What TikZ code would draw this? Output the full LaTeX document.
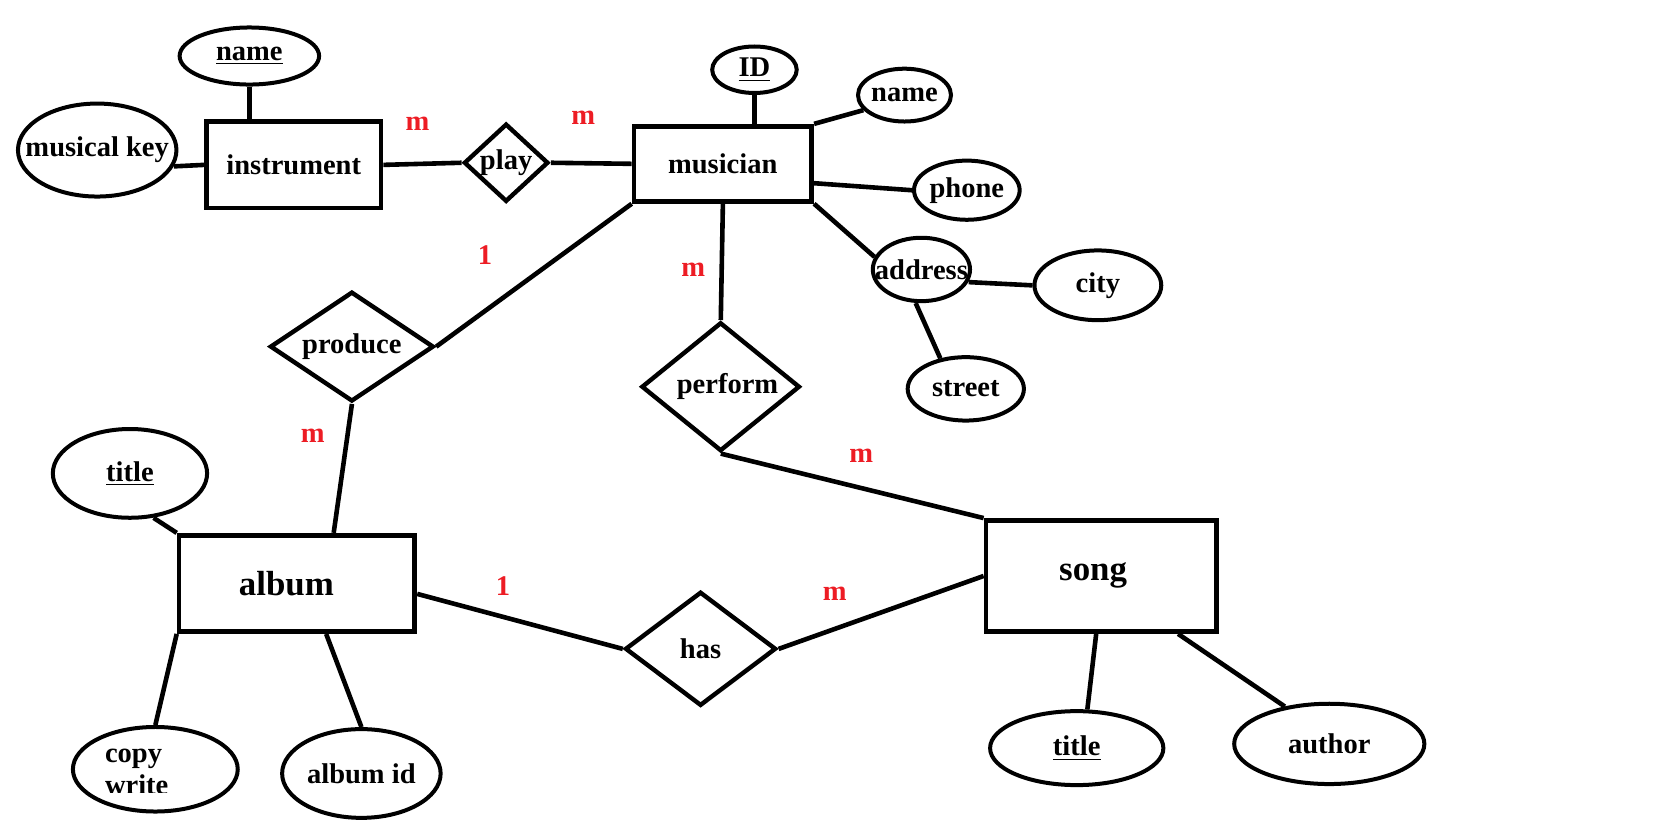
\documentclass[tikz,border=0pt]{standalone}
\usepackage{fontspec}
\setmainfont{Liberation Serif}
\usetikzlibrary{shapes.geometric}
\definecolor{pred}{RGB}{237,28,36}
\newcommand{\ztext}[1]{\makebox[0pt][c]{#1}}
\begin{document}
\begin{tikzpicture}[x=0.5pt,y=-0.5pt,scale=1.0567,
  every node/.style={transform shape, font=\bfseries\fontsize{13.5}{15}\selectfont, inner sep=0pt},
  attr/.style={draw, ellipse, line width=2pt},
  ent/.style={draw, rectangle, line width=2.3pt},
  rel/.style={draw, diamond, line width=2.2pt},
  big/.style={font=\bfseries\fontsize{16.5}{18}\selectfont},
  card/.style={text=pred},
  conn/.style={line width=2.3pt}]
\useasboundingbox (0,0) rectangle (1567.2,791.2);
% entities
\node[ent, minimum width=82.5pt, minimum height=41pt] (instrument) at (278,156) {instrument};
\node[ent, minimum width=84pt, minimum height=35.5pt] (musician) at (684,155) {musician};
\node[ent, big, minimum width=111.5pt, minimum height=45.5pt] (album) at (281,552) {\ztext{album\hspace{10pt}}};
\node[ent, big, minimum width=109pt, minimum height=52.5pt] (song) at (1042,545) {\ztext{song\hspace{7.5pt}}};
% relationships
\node[rel, minimum width=40pt, minimum height=37pt] (play) at (479,154) {\ztext{play}};
\node[rel, minimum width=77.5pt, minimum height=52pt] (produce) at (333,328) {\ztext{produce}};
\node[rel, minimum width=75pt, minimum height=61pt] (perform) at (682,366) {\ztext{\hspace{6.5pt}perform}};
\node[rel, minimum width=71.5pt, minimum height=54pt] (has) at (663,614) {\ztext{has}};
% attributes
\node[attr, minimum width=66pt, minimum height=27pt] (iname) at (236,53) {\ztext{\underline{name}}};
\node[attr, minimum width=75pt, minimum height=44pt] (mkey) at (92,142) {\ztext{musical key}};
\node[attr, minimum width=40pt, minimum height=22pt] (mid) at (714,66) {\ztext{\underline{ID}}};
\node[attr, minimum width=44pt, minimum height=25pt] (mname) at (856,90) {\ztext{name}};
\node[attr, minimum width=50pt, minimum height=28pt] (phone) at (915,180) {\ztext{phone}};
\node[attr, minimum width=46pt, minimum height=30pt] (addr) at (872,255) {\ztext{address}};
\node[attr, minimum width=60pt, minimum height=33pt] (city) at (1039,270) {\ztext{city}};
\node[attr, minimum width=55pt, minimum height=30pt] (street) at (914,368) {\ztext{street}};
\node[attr, minimum width=73pt, minimum height=42pt] (atitle) at (123,448) {\ztext{\underline{title}}};
\node[attr, minimum width=78pt, minimum height=40pt] (copy) at (147,728) {};
\node[attr, minimum width=75pt, minimum height=42pt] (aid) at (342,732) {\ztext{album id}};
\node[attr, minimum width=82pt, minimum height=35pt] (stitle) at (1019,708) {\ztext{\underline{title}}};
\node[attr, minimum width=90pt, minimum height=38pt] (author) at (1258,704) {\ztext{author}};
\node[anchor=base west] (copytext) at (99,722) {copy};
\begin{scope}
\clip (60,700) rectangle (240,750);
\node[anchor=base west] (writetext) at (99,752) {write};
\end{scope}
% connectors
\draw[conn] (mkey.-12) -- (instrument.west);
\draw[conn] (iname.south) -- (iname.south |- instrument.north);
\draw[conn] (instrument.east) -- (play.west);
\draw[conn] (play.east) -- (musician.west);
\draw[conn] (mid.south) -- (mid.south |- musician.north);
\draw[conn] (musician.north east) -- (mname.200);
\draw[conn] (musician.-12) -- (phone.west);
\draw[conn] (musician.south east) -- (addr.165);
\draw[conn] (addr.-15) -- (city.west);
\draw[conn] (addr.-100) -- (street.130);
\draw[conn] (musician.south west) -- (produce.east);
\draw[conn] (produce.south) -- (album.54);
\draw[conn] (musician.south) -- (perform.north);
\draw[conn] (perform.south) -- (song.north west);
\draw[conn] (album.-5) -- (has.west);
\draw[conn] (has.east) -- (song.west);
\draw[conn] (song.-95) -- (stitle.75);
\draw[conn] (song.-37) -- (author.140);
\draw[conn] (atitle.-62) -- (album.north west);
\draw[conn] (album.south west) -- (copy.north);
\draw[conn] (album.-60) -- (aid.north);
% cardinalities
\node[card] (c1) at (395,117) {m};
\node[card] (c2) at (552,111) {m};
\node[card] (c3) at (459,241) {1};
\node[card] (c4) at (296,412) {m};
\node[card] (c5) at (656,255) {m};
\node[card] (c6) at (815,431) {m};
\node[card] (c7) at (476,555) {1};
\node[card] (c8) at (790,562) {m};
\end{tikzpicture}
\end{document}
